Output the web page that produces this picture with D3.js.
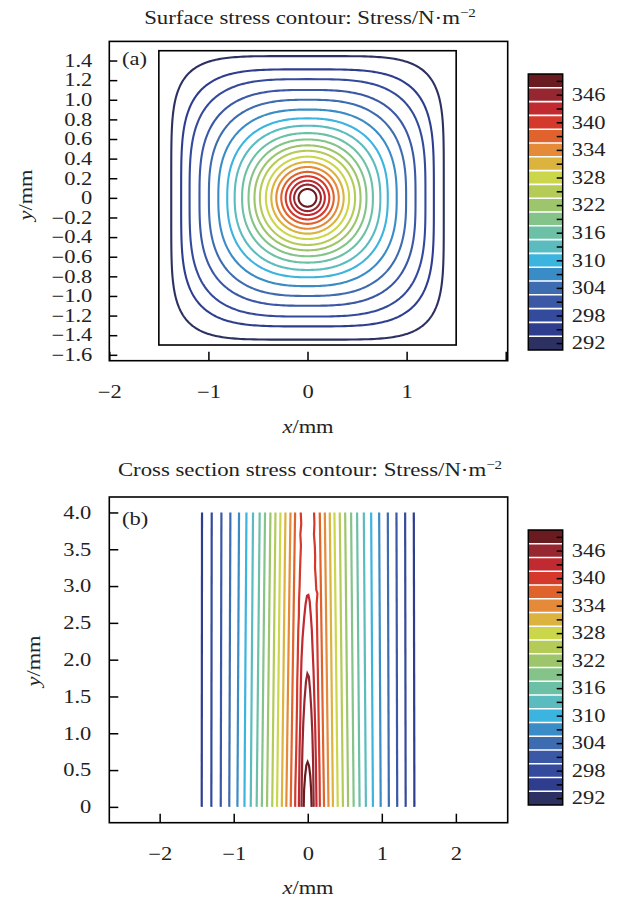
<!DOCTYPE html>
<html>
<head>
<meta charset="utf-8">
<script src="https://cdn.jsdelivr.net/npm/d3@7.9.0/dist/d3.min.js"></script>
<style>
  body { margin: 0; background: #fff; }
  text { font-family: "Liberation Serif", "Times New Roman", serif; fill: #222; }
</style>
</head>
<body>
<svg id="chart" width="621" height="900"></svg>
<script>
// colour bar (shared by both panels)
const bandEdges = [290.5, 293.5, 296.5, 299.5, 302.5, 305.5, 308.5, 311.5, 314.5, 317.5, 320.5,
                   323.5, 326.5, 329.5, 332.5, 335.5, 338.5, 341.5, 344.5, 347.5, 350.5];
const bandColors = ['#2c3162', '#2f3d8f', '#344a9c', '#3a58a6', '#3e6cb0', '#3a8cc6', '#3bb4e0',
                    '#5bbcc0', '#6cc0a6', '#84c38a', '#9cc56c', '#b4cb58', '#cbd64a', '#dbb33e',
                    '#e48a38', '#e0622c', '#d5392c', '#c02a30', '#962730', '#6a1b1f'];
const cbTicks = [292, 295, 298, 301, 304, 307, 310, 313, 316, 319, 322, 325, 328, 331, 334, 337, 340, 343, 346, 349];
const cbLabels = [292, 298, 304, 310, 316, 322, 328, 334, 340, 346];

// (a) surface contours, outer to inner
const surfLevels = [292, 295, 298, 301, 304, 307, 310, 313, 316, 319, 322, 325, 328, 331, 334, 337, 340, 343, 346, 349];
const surfRx = [1.375, 1.275, 1.19, 1.09, 0.995, 0.90, 0.81, 0.735, 0.66, 0.595, 0.535, 0.48, 0.42, 0.365, 0.315, 0.265, 0.22, 0.175, 0.135, 0.09];
const surfRy = [1.445, 1.31, 1.21, 1.10, 1.00, 0.90, 0.81, 0.735, 0.66, 0.595, 0.535, 0.48, 0.42, 0.365, 0.315, 0.265, 0.22, 0.175, 0.135, 0.09];
const surfShape = [5.2, 4.0, 3.4, 3.0, 2.75, 2.55, 2.4, 2.3, 2.22, 2.16, 2.11, 2.07, 2.04, 2.02, 2, 2, 2, 2, 2, 2];

// (b) cross-section contours
const crossLevels = [295, 298, 301, 304, 307, 310, 313, 316, 319, 322, 325, 328, 331, 334, 337];
const leftTop = [-1.428, -1.297, -1.166, -1.045, -0.928, -0.828, -0.739, -0.649, -0.577, -0.504, -0.436, -0.369, -0.301, -0.233, -0.171];
const leftBottom = [-1.432, -1.302, -1.175, -1.06, -0.95, -0.855, -0.77, -0.69, -0.62, -0.55, -0.48, -0.415, -0.35, -0.29, -0.23];
const rightTop = [1.432, 1.315, 1.198, 1.081, 0.964, 0.856, 0.757, 0.666, 0.585, 0.505, 0.432, 0.36, 0.297, 0.23, 0.162];
const rightBottom = [1.44, 1.322, 1.208, 1.095, 0.985, 0.88, 0.785, 0.70, 0.62, 0.545, 0.475, 0.405, 0.34, 0.28, 0.22];

const left340 = [[-0.095, 4.0], [-0.088, 3.85], [-0.1, 3.7], [-0.092, 3.55], [-0.098, 3.4], [-0.105, 3.2], [-0.11, 3.0],
  [-0.118, 2.8], [-0.12, 2.6], [-0.128, 2.4], [-0.132, 2.2], [-0.135, 2.0], [-0.142, 1.7], [-0.145, 1.4],
  [-0.15, 1.1], [-0.155, 0.8], [-0.162, 0.5], [-0.168, 0.25], [-0.17, 0]];
const right340 = [[0.085, 4.0], [0.09, 3.85], [0.084, 3.7], [0.095, 3.55], [0.1, 3.4], [0.098, 3.25], [0.108, 3.1],
  [0.115, 2.95], [0.13, 2.9], [0.12, 2.75], [0.125, 2.5], [0.13, 2.2], [0.135, 1.9], [0.14, 1.6],
  [0.145, 1.3], [0.15, 1.0], [0.155, 0.7], [0.16, 0.4], [0.163, 0]];
const finger343 = [[-0.12, 0], [-0.115, 0.4], [-0.11, 0.8], [-0.1, 1.2], [-0.095, 1.6], [-0.085, 2.0], [-0.07, 2.3],
  [-0.05, 2.55], [-0.03, 2.75], [-0.01, 2.87], [0.008, 2.88], [0.025, 2.8], [0.04, 2.62], [0.055, 2.4],
  [0.065, 2.15], [0.078, 1.85], [0.088, 1.5], [0.1, 1.1], [0.11, 0.6], [0.118, 0]];
const finger346 = [[-0.085, 0], [-0.08, 0.4], [-0.072, 0.8], [-0.06, 1.15], [-0.044, 1.45], [-0.024, 1.7], [-0.005, 1.81],
  [0.015, 1.77], [0.032, 1.58], [0.048, 1.32], [0.062, 1.0], [0.072, 0.6], [0.08, 0]];
const finger349 = [[-0.055, 0], [-0.05, 0.22], [-0.036, 0.42], [-0.018, 0.57], [-0.002, 0.61], [0.017, 0.56],
  [0.034, 0.42], [0.046, 0.22], [0.052, 0]];

const svg = d3.select('#chart');
const SX = 1.25; // the reference type is set wide

const color = d3.scaleThreshold().domain(bandEdges.slice(1, -1)).range(bandColors);

function widen(sel) {
  sel.each(function () {
    const t = d3.select(this);
    const x = +t.attr('x') || 0;
    t.attr('x', 0).attr('transform', `translate(${x},0) scale(${SX},1)`);
  });
}

function label(x, y, anchor, sx = SX) {
  return svg.append('text')
    .attr('transform', `translate(${x},${y}) scale(${sx},1)`)
    .attr('text-anchor', anchor)
    .attr('font-size', 18);
}

function styleAxis(g) {
  g.attr('font-size', 18);
  g.select('.domain').remove();
  g.selectAll('line').attr('stroke', '#000').attr('stroke-width', 1.5);
  g.selectAll('text').attr('fill', '#222');
}

function title(y, str) {
  const t = label(310, y, 'middle', 1.2).attr('font-size', 19);
  t.append('tspan').text(str);
  t.append('tspan').attr('dy', -7).attr('font-size', 12.5).text('−2');
}

function frame(x, y) {
  svg.append('rect')
    .attr('x', x.range()[0]).attr('y', y.range()[1])
    .attr('width', x.range()[1] - x.range()[0])
    .attr('height', y.range()[0] - y.range()[1])
    .attr('fill', 'none').attr('stroke', '#000').attr('stroke-width', 1.6);
}

function colorbar(c) {
  const g = svg.append('g');
  const x0 = 528.3, x1 = 562.7;
  g.selectAll('rect.band').data(bandColors).join('rect')
    .attr('x', x0).attr('width', x1 - x0)
    .attr('y', (d, i) => c(bandEdges[i + 1]))
    .attr('height', (d, i) => c(bandEdges[i]) - c(bandEdges[i + 1]))
    .attr('fill', d => d);
  g.selectAll('line.sep').data(bandEdges.slice(1, -1)).join('line')
    .attr('x1', x0).attr('x2', x1)
    .attr('y1', d => c(d)).attr('y2', d => c(d))
    .attr('stroke', '#fff').attr('stroke-width', 1.6);
  g.append('rect')
    .attr('x', x0).attr('y', c.range()[1])
    .attr('width', x1 - x0).attr('height', c.range()[0] - c.range()[1])
    .attr('fill', 'none').attr('stroke', '#000').attr('stroke-width', 1.5);
  const ax = svg.append('g').attr('transform', `translate(${x1},0)`)
    .call(d3.axisRight(c).tickValues(cbTicks).tickSize(-6).tickPadding(9)
      .tickFormat(d => cbLabels.includes(d) ? String(d) : ''));
  styleAxis(ax);
  widen(ax.selectAll('text'));
}

// ---------- panel (a) ----------
const xA = d3.scaleLinear().domain([-2, 2.02]).range([109.3, 507.7]);
const yA = d3.scaleLinear().domain([-1.66, 1.595]).range([360.7, 41.4]);

title(24, 'Surface stress contour: Stress/N·m');

const surfLine = d3.line().x(d => xA(d[0])).y(d => yA(d[1])).curve(d3.curveLinearClosed);
const angles = d3.range(0, 360, 1).map(a => a * Math.PI / 180);
svg.append('g').selectAll('path').data(surfLevels).join('path')
  .attr('d', (lev, i) => surfLine(angles.map(t => {
    const c = Math.cos(t), s = Math.sin(t), e = 2 / surfShape[i];
    return [surfRx[i] * Math.sign(c) * Math.pow(Math.abs(c), e),
            surfRy[i] * Math.sign(s) * Math.pow(Math.abs(s), e)];
  })))
  .attr('fill', 'none')
  .attr('stroke', d => color(d))
  .attr('stroke-width', 2.1);

// specimen outline
svg.append('rect')
  .attr('x', xA(-1.5)).attr('y', yA(1.5))
  .attr('width', xA(1.5) - xA(-1.5)).attr('height', yA(-1.5) - yA(1.5))
  .attr('fill', 'none').attr('stroke', '#000').attr('stroke-width', 1.6);

frame(xA, yA);

const axA = svg.append('g').attr('transform', `translate(0,${yA.range()[0]})`)
  .call(d3.axisBottom(xA).tickValues([-2, -1, 0, 1, 2]).tickSize(-9).tickPadding(25)
    .tickFormat(d => d === 2 ? '' : d3.format('d')(d)));
styleAxis(axA);
widen(axA.selectAll('text'));

const ayA = svg.append('g').attr('transform', `translate(${xA.range()[0]},0)`)
  .call(d3.axisLeft(yA)
    .tickValues([-1.6, -1.4, -1.2, -1.0, -0.8, -0.6, -0.4, -0.2, 0, 0.2, 0.4, 0.6, 0.8, 1.0, 1.2, 1.4])
    .tickSize(-8).tickPadding(17)
    .tickFormat(d => d === 0 ? '0' : d3.format('.1f')(d)));
styleAxis(ayA);
widen(ayA.selectAll('text'));

label(122, 65, 'start').text('(a)');

const xlA = label(308, 433, 'middle');
xlA.append('tspan').attr('font-style', 'italic').text('x');
xlA.append('tspan').text('/mm');

const ylA = svg.append('text').attr('transform', `translate(32,195) rotate(-90) scale(${SX},1)`)
  .attr('text-anchor', 'middle').attr('font-size', 18);
ylA.append('tspan').attr('font-style', 'italic').text('y');
ylA.append('tspan').text('/mm');

colorbar(d3.scaleLinear().domain([290.5, 350.5]).range([350, 74]));

// ---------- panel (b) ----------
const xB = d3.scaleLinear().domain([-2.68, 2.70]).range([109.3, 507.7]);
const yB = d3.scaleLinear().domain([-0.215, 4.21]).range([822.7, 497]);

title(476, 'Cross section stress contour: Stress/N·m');

const crossLine = d3.line().x(d => xB(d[0])).y(d => yB(d[1]));
const gB = svg.append('g').attr('fill', 'none').attr('stroke-width', 2.2);

crossLevels.forEach((lev, i) => {
  gB.append('path').attr('stroke', color(lev))
    .attr('d', crossLine([[leftTop[i], 4], [leftBottom[i], 0]]));
  gB.append('path').attr('stroke', color(lev))
    .attr('d', crossLine([[rightTop[i], 4], [rightBottom[i], 0]]));
});
gB.append('path').attr('stroke', color(340)).attr('d', crossLine(left340));
gB.append('path').attr('stroke', color(340)).attr('d', crossLine(right340));
gB.append('path').attr('stroke', color(343)).attr('d', crossLine(finger343));
gB.append('path').attr('stroke', color(346)).attr('d', crossLine(finger346));
gB.append('path').attr('stroke', color(349)).attr('d', crossLine(finger349));

frame(xB, yB);

const axB = svg.append('g').attr('transform', `translate(0,${yB.range()[0]})`)
  .call(d3.axisBottom(xB).tickValues([-2, -1, 0, 1, 2]).tickSize(-9).tickPadding(24.5)
    .tickFormat(d3.format('d')));
styleAxis(axB);
widen(axB.selectAll('text'));

const ayB = svg.append('g').attr('transform', `translate(${xB.range()[0]},0)`)
  .call(d3.axisLeft(yB).tickValues([0, 0.5, 1, 1.5, 2, 2.5, 3, 3.5, 4])
    .tickSize(-9).tickPadding(18)
    .tickFormat(d => d === 0 ? '0' : d3.format('.1f')(d)));
styleAxis(ayB);
widen(ayB.selectAll('text'));

label(122, 525, 'start').text('(b)');

const xlB = label(308, 894, 'middle');
xlB.append('tspan').attr('font-style', 'italic').text('x');
xlB.append('tspan').text('/mm');

const ylB = svg.append('text').attr('transform', `translate(40,661) rotate(-90) scale(${SX},1)`)
  .attr('text-anchor', 'middle').attr('font-size', 18);
ylB.append('tspan').attr('font-style', 'italic').text('y');
ylB.append('tspan').text('/mm');

colorbar(d3.scaleLinear().domain([290.5, 350.5]).range([805, 530]));
</script>
</body>
</html>
